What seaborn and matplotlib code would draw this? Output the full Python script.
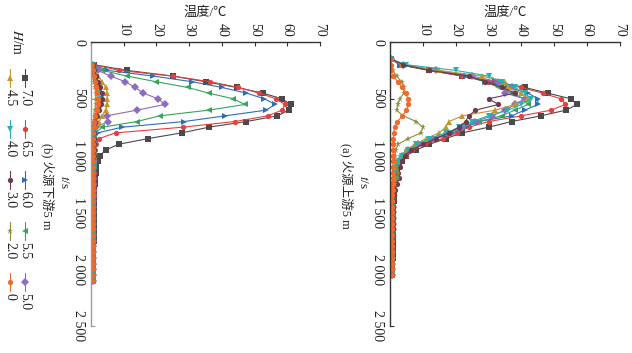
import matplotlib
matplotlib.use("Agg")
import matplotlib.pyplot as plt
from matplotlib.lines import Line2D
import seaborn as sns

# heights of the detector (legend), colours and markers as seen in the picture
heights = ["7.0", "6.5", "6.0", "5.5", "5.0", "4.5", "4.0", "3.0", "2.0", "0"]
colors = ["#4a4a4a", "#e5403d", "#2f6db5", "#37a35c", "#8d6bbd",
          "#c4952a", "#25b2b2", "#6c3a4c", "#8e8e3a", "#f2692a"]
markers = ["s", "o", ">", "<", "D", "^", "v", "o", "*", "o"]

# (a) 5 m upstream of the fire
time_up = [150, 200, 250, 300, 350, 400, 450, 500, 550, 600, 650, 700, 750,
           800, 850, 900, 950, 1000, 1050, 1100, 1150, 1200, 1250, 1300,
           1350, 1400, 1450, 1500, 1550, 1600, 1650, 1700, 1750, 1800, 1850,
           1900, 1950, 2000, 2050]
up_70 = [0.3, 3, 12, 22, 32, 41, 48, 55, 57, 53.5, 46, 37, 30, 22, 17, 12, 8, 5, 3.5,
         2.6, 2.0, 1.8, 1.5, 1.3, 1.2, 1.1, 1.0, 1.0, 0.9, 0.9, 0.9, 0.8, 0.8, 0.8,
         0.8, 0.8, 0.7, 0.7, 0.7]
up_65 = [0.3, 3, 12, 22, 30, 40, 46.5, 52, 53.4, 49, 40, 30, 24, 20.5, 16, 10.5, 6.8,
         4.8, 3.3, 2.4, 2.0, 1.7, 1.4, 1.2, 1.1, 1.0, 1.0, 0.9, 0.9, 0.9, 0.8, 0.8,
         0.8, 0.8, 0.7, 0.7, 0.7, 0.7, 0.7]
up_60 = [0.3, 3, 13, 23, 29, 36, 42, 45, 45, 41, 37, 27, 23, 19, 14, 9.5, 6.3, 4.3, 3,
         2.2, 1.8, 1.5, 1.3, 1.2, 1.1, 1.0, 0.9, 0.9, 0.9, 0.8, 0.8, 0.8, 0.8, 0.7,
         0.7, 0.7, 0.7, 0.7, 0.7]
up_55 = [0.3, 3.5, 13, 24, 29, 33, 37, 41, 42, 38, 34, 27, 22, 18, 13, 9, 6, 4, 2.8,
         2.1, 1.7, 1.5, 1.3, 1.1, 1.0, 1.0, 0.9, 0.9, 0.8, 0.8, 0.8, 0.8, 0.7, 0.7,
         0.7, 0.7, 0.7, 0.6, 0.6]
up_50 = [0.3, 4, 14, 25, 33, 37, 35, 41, 38, 35, 31, 26, 22, 17.5, 13, 8.5, 5.5, 3.8,
         2.7, 2.0, 1.7, 1.5, 1.3, 1.1, 1.0, 1.0, 0.9, 0.9, 0.8, 0.8, 0.8, 0.7, 0.7,
         0.7, 0.7, 0.7, 0.6, 0.6, 0.6]
up_45 = [0.3, 3.5, 15, 28, 35, 36, 40, 42, 38, 32, 22, 18, 17, 15, 11, 7.5, 5, 3.3,
         2.4, 1.9, 1.6, 1.4, 1.2, 1.1, 1.0, 0.9, 0.9, 0.8, 0.8, 0.8, 0.8, 0.7, 0.7,
         0.7, 0.7, 0.6, 0.6, 0.6, 0.6]
up_40 = [0.3, 5, 20, 30, 34, 38, 41, 43, 40, 36, 30, 25, 21, 17, 12, 8, 5.5, 3.6, 2.6,
         2.0, 1.6, 1.4, 1.2, 1.1, 1.0, 0.9, 0.9, 0.8, 0.8, 0.8, 0.7, 0.7, 0.7, 0.7,
         0.7, 0.6, 0.6, 0.6, 0.6]
up_30 = [0.3, 4, 12, 24, 29, 34, 38, 30, 33, 26, 24, 23, 21, 18, 14, 10, 6.5, 4.5,
         3.5, 3.0, 2.5, 2.8, 2.0, 1.4, 1.2, 1.1, 1.0, 1.0, 0.9, 0.9, 0.8, 0.8, 0.8,
         0.8, 0.7, 0.7, 0.7, 0.7, 0.7]
up_20 = [0.2, 0.3, 0.8, 2, 3.5, 4.3, 4.2, 3.0, 2.5, 2, 4, 8, 10, 9.5, 5.5, 2.5, 1.8,
         1.5, 1.5, 2.2, 2.5, 2.3, 1.5, 1.0, 0.9, 0.9, 0.8, 0.8, 0.8, 0.8, 0.7, 0.7,
         0.7, 0.7, 0.7, 0.6, 0.6, 0.6, 0.6]
up_00 = [0.2, 0.3, 0.4, 0.8, 2.5, 3.8, 4.8, 5.5, 5.6, 5.0, 3.8, 2.2, 1.4, 1.1, 1.0,
         1.0, 0.9, 0.9, 0.9, 0.8, 0.8, 0.8, 0.8, 0.8, 0.7, 0.7, 0.7, 0.7, 0.7, 0.7,
         0.6, 0.6, 0.6, 0.6, 0.6, 0.6, 0.6, 0.6, 0.6]

# (b) 5 m downstream of the fire
time_down = [200, 250, 300, 350, 400, 450, 500, 550, 600, 650, 700, 750, 800, 850,
             900, 950, 1000, 1050, 1100, 1150, 1200, 1250, 1300, 1350, 1400, 1450,
             1500, 1550, 1600, 1650, 1700, 1750, 1800, 1850, 1900, 1950, 2000,
             2050, 2100]
down_70 = [1.0, 11, 25, 35, 44.6, 52.5, 58.4, 61, 60.4, 57, 47.5, 36, 27.7, 17.5, 8.5,
           4.5, 2.8, 2.0, 1.6, 1.4, 1.2, 1.1, 1.0, 1.0, 0.9, 0.9, 0.9, 0.8, 0.8, 0.8,
           0.8, 0.8, 0.7, 0.7, 0.7, 0.7, 0.7, 0.7, 0.7]
down_65 = [1.0, 8.5, 25, 36.5, 45, 51.5, 56.5, 59.3, 58.4, 54, 44, 28, 7.5, 2.5, 1.5,
           1.2, 1.0, 0.9, 0.9, 0.8, 0.8, 0.8, 0.8, 0.8, 0.7, 0.7, 0.7, 0.7, 0.7, 0.7,
           0.7, 0.7, 0.7, 0.6, 0.6, 0.6, 0.6, 0.6, 0.6]
down_60 = [0.8, 5, 19, 31, 40, 47.5, 53, 56.3, 53.5, 41, 28.5, 9.5, 2, 1.2, 1.0, 0.9,
           0.9, 0.8, 0.8, 0.8, 0.8, 0.7, 0.7, 0.7, 0.7, 0.7, 0.7, 0.7, 0.6, 0.6, 0.6,
           0.6, 0.6, 0.6, 0.6, 0.6, 0.6, 0.6, 0.6]
down_55 = [0.5, 3.5, 11, 20, 29.5, 36, 43.5, 47, 36, 21, 14, 3.5, 1.2, 1.0, 0.9, 0.9,
           0.8, 0.8, 0.8, 0.7, 0.7, 0.7, 0.7, 0.7, 0.7, 0.6, 0.6, 0.6, 0.6, 0.6, 0.6,
           0.6, 0.6, 0.6, 0.6, 0.6, 0.6, 0.6, 0.6]
down_50 = [0.5, 2, 6, 10.5, 13.5, 16, 20.5, 22.6, 14, 4.8, 5.2, 1.5, 1.0, 0.9, 0.9,
           0.8, 0.8, 0.8, 0.7, 0.7, 0.7, 0.7, 0.7, 0.7, 0.7, 0.6, 0.6, 0.6, 0.6, 0.6,
           0.6, 0.6, 0.6, 0.6, 0.6, 0.6, 0.6, 0.6, 0.6]
down_45 = [0.5, 1, 2, 3.5, 4.5, 5, 5, 5, 4.5, 3.5, 2.5, 1.2, 1.0, 0.9, 0.9, 0.8, 0.8,
           0.8, 0.7, 0.7, 0.7, 0.7, 0.7, 0.7, 0.7, 0.6, 0.6, 0.6, 0.6, 0.6, 0.6, 0.6,
           0.6, 0.6, 0.6, 0.6, 0.6, 0.6, 0.6]
down_40 = [0.5, 0.8, 1, 1.3, 1.8, 2.5, 3, 3, 2.3, 1.6, 1.2, 1.0, 0.9, 0.9, 0.8, 0.8,
           0.8, 0.7, 0.7, 0.7, 0.7, 0.7, 0.7, 0.6, 0.6, 0.6, 0.6, 0.6, 0.6, 0.6, 0.6,
           0.6, 0.6, 0.6, 0.6, 0.6, 0.6, 0.6, 0.6]
down_30 = [0.5, 1, 1.5, 2.2, 2.8, 3.3, 3.5, 3.2, 2.5, 1.8, 1.3, 1.0, 0.9, 0.9, 0.8,
           0.8, 0.8, 0.7, 0.7, 0.7, 0.7, 0.7, 0.7, 0.7, 0.6, 0.6, 0.6, 0.6, 0.6, 0.6,
           0.6, 0.6, 0.6, 0.6, 0.6, 0.6, 0.6, 0.6, 0.6]
down_20 = [0.4, 0.6, 0.8, 1.0, 1.2, 1.4, 1.5, 1.5, 1.3, 1.1, 0.9, 0.8, 0.8, 0.7, 0.7,
           0.7, 0.7, 0.7, 0.7, 0.6, 0.6, 0.6, 0.6, 0.6, 0.6, 0.6, 0.6, 0.6, 0.6, 0.6,
           0.6, 0.6, 0.6, 0.6, 0.6, 0.6, 0.6, 0.6, 0.6]
down_00 = [0.4, 0.6, 0.9, 1.2, 1.5, 1.8, 2.0, 2.0, 1.7, 1.3, 1.0, 0.8, 0.7, 0.7, 0.7,
           0.7, 0.7, 0.6, 0.6, 0.6, 0.6, 0.6, 0.6, 0.6, 0.6, 0.6, 0.6, 0.6, 0.6, 0.6,
           0.6, 0.6, 0.6, 0.6, 0.6, 0.6, 0.6, 0.6, 0.6]

temp_ticks = [0, 10, 20, 30, 40, 50, 60, 70]
temp_labels = ["", "10", "20", "30", "40", "50", "60", "70"]
time_ticks = [0, 500, 1000, 1500, 2000, 2500]
time_labels = ["0", "500", "1 000", "1 500", "2 000", "2 500"]

sns.set_style("ticks")
plt.rcParams["font.family"] = ["Liberation Serif", "Noto Sans CJK SC"]
plt.rcParams["mathtext.fontset"] = "stix"

W, H = 632, 353
fig = plt.figure(figsize=(W / 100, H / 100), dpi=100)


def fx(px):
    return px / W


def fy(py):
    return 1 - py / H


def panel(left_px, right_px, times, series, caption, spine_color):
    # the chart is printed turned a quarter turn: temperature runs across,
    # time runs down the page
    ax = fig.add_axes([fx(left_px), fy(326), fx(right_px - left_px), (326 - 42) / H])
    for vals, c, m in zip(series, colors, markers):
        ms = 5 if m == "*" else 3.8
        sns.lineplot(x=vals, y=times, orient="y", sort=False, ax=ax, color=c,
                     lw=0.8, marker=m, markersize=ms, markeredgewidth=0,
                     estimator=None)
    ax.set_xlim(0, 70)
    ax.set_ylim(2500, 0)
    ax.spines["right"].set_visible(False)
    ax.spines["bottom"].set_visible(False)
    ax.spines["left"].set_color(spine_color)
    ax.spines["top"].set_color("#333333")
    ax.spines["left"].set_linewidth(1.0)
    ax.spines["top"].set_linewidth(1.0)
    ax.xaxis.tick_top()
    ax.set_xticks(temp_ticks)
    ax.set_xticklabels(temp_labels, rotation=270, fontsize=10)
    ax.set_yticks(time_ticks)
    ax.set_yticklabels(time_labels, rotation=270, fontsize=10, va="center")
    ax.tick_params(axis="both", direction="in", length=3, width=0.8, pad=4,
                   colors="#333333", labelcolor="#222222")
    ax.tick_params(axis="y", colors=spine_color, labelcolor="#222222")
    ax.set_xlabel("")
    ax.set_ylabel("")
    mid = (left_px + right_px) / 2
    fig.text(fx(mid), fy(13), "温度/℃", ha="center", va="center", fontsize=9.5,
             color="#222222")
    fig.text(fx(left_px - 27), fy(182), "$t$/s", rotation=270, ha="center",
             va="center", fontsize=9.5, color="#222222")
    fig.text(fx(left_px - 43), fy(186), caption, rotation=270, ha="center",
             va="center", fontsize=9, color="#222222")
    return ax


up_series = [up_70, up_65, up_60, up_55, up_50, up_45, up_40, up_30, up_20, up_00]
down_series = [down_70, down_65, down_60, down_55, down_50, down_45, down_40,
               down_30, down_20, down_00]

panel(390, 620, time_up, up_series, "(a) 火源上游5 m", "#333333")
panel(91, 320, time_down, down_series, "(b) 火源下游5 m", "#9a9a9a")

# legend, drawn turned like the rest of the chart
fig.text(fx(17), fy(42), "$H$/m", rotation=270, ha="center", va="center",
         fontsize=10, color="#222222")
for i, (h, c, m) in enumerate(zip(heights, colors, markers)):
    col_x = 25 if i < 5 else 10
    my = 78 + 51 * (i % 5)
    fig.add_artist(Line2D([fx(col_x), fx(col_x)], [fy(my - 9), fy(my + 9)],
                          transform=fig.transFigure, color=c, lw=0.8))
    fig.add_artist(Line2D([fx(col_x)], [fy(my)], transform=fig.transFigure,
                          color=c, marker=m, markersize=5 if m == "*" else 3.8,
                          markeredgewidth=0, lw=0))
    fig.text(fx(col_x), fy(my + 11), h, rotation=270, ha="center", va="top",
             fontsize=10, color="#222222")

fig.savefig("out.png", dpi=100)
